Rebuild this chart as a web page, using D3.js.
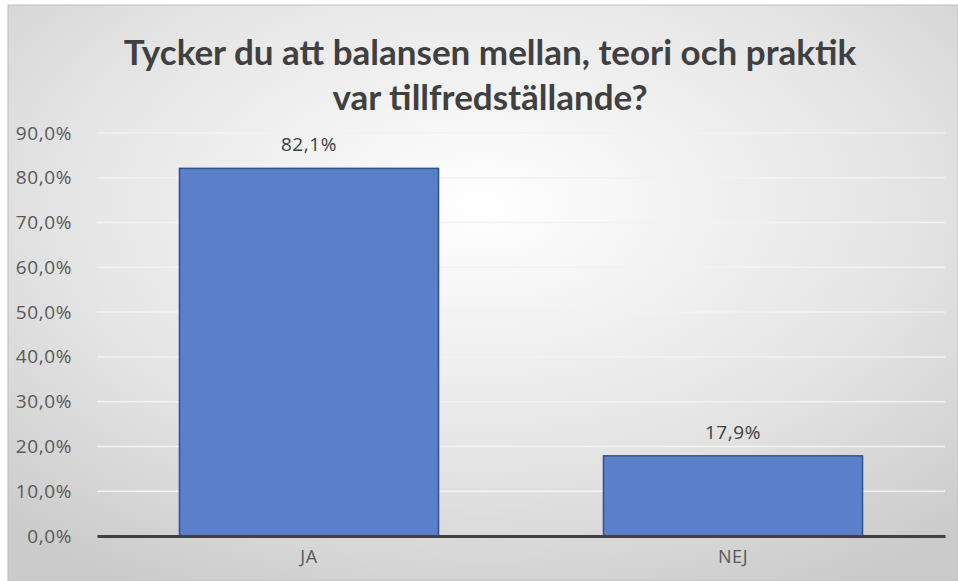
<!DOCTYPE html>
<html><head><meta charset="utf-8">
<script src="https://cdn.jsdelivr.net/npm/d3@7"></script>
<style>body{margin:0;background:#fff}svg{display:block}</style>
</head><body>
<svg id="c" width="958" height="581"></svg>
<script>
const categories = ["JA", "NEJ"];
const values = [0.821, 0.179];
const yTicks = [0, 0.1, 0.2, 0.3, 0.4, 0.5, 0.6, 0.7, 0.8, 0.9];
const titleLines = ["Tycker du att balansen mellan, teori och praktik", "var tillfredställande?"];

const svg = d3.select("#c");
const W = 958, H = 581;
const defs = svg.append("defs");
const rg = defs.append("radialGradient").attr("id","bg").attr("cx","50%").attr("cy","35%").attr("r","75%");
rg.append("stop").attr("offset","0%").attr("stop-color","#ffffff");
rg.append("stop").attr("offset","60%").attr("stop-color","#e4e4e4");
rg.append("stop").attr("offset","100%").attr("stop-color","#cbcbcb");
svg.append("rect").attr("x",0).attr("y",0).attr("width",W).attr("height",H).attr("fill","#fff");
svg.append("rect").attr("x",8).attr("y",5).attr("width",W-8).attr("height",H-5).attr("fill","url(#bg)")
  .attr("stroke","#bdbdbd").attr("stroke-width",1);

const m = {left:97, right:945, top:133, bottom:536};
const x = d3.scaleBand().domain(categories).range([m.left, m.right]).paddingInner(0.389).paddingOuter(0.1945);
const y = d3.scaleLinear().domain([0, 0.9]).range([m.bottom, m.top]);
const fmt = v => d3.format(".1f")(v*100).replace(".", ",") + "%";

// gridlines
svg.append("g").selectAll("line").data(yTicks.filter(d=>d>0)).join("line")
  .attr("x1", m.left).attr("x2", m.right)
  .attr("y1", d=>y(d)).attr("y2", d=>y(d))
  .attr("stroke","#f2f2f2").attr("stroke-width",1.5);

// y axis labels
const ya = svg.append("g").attr("transform",`translate(${m.left},0)`)
  .call(d3.axisLeft(y).tickValues(yTicks).tickFormat(fmt).tickSize(0).tickPadding(25));
ya.select(".domain").remove();
ya.selectAll("text").attr("font-family","'Open Sans', sans-serif").attr("font-size",19)
  .attr("letter-spacing","0.6px").attr("fill","#595959");

// bars
svg.append("g").selectAll("rect").data(values).join("rect")
  .attr("x",(d,i)=>x(categories[i])).attr("width",x.bandwidth())
  .attr("y",d=>y(d)).attr("height",d=>y(0)-y(d))
  .attr("fill","#5b7fc8").attr("stroke","#2f528f").attr("stroke-width",1.5);

// data labels
svg.append("g").selectAll("text").data(values).join("text")
  .attr("x",(d,i)=>x(categories[i])+x.bandwidth()/2).attr("y",d=>y(d)-17)
  .attr("text-anchor","middle").attr("font-family","'Open Sans', sans-serif").attr("font-size",19)
  .attr("letter-spacing","0.6px").attr("fill","#404040").text(fmt);

// x axis
const xa = svg.append("g").attr("transform",`translate(0,${m.bottom})`)
  .call(d3.axisBottom(x).tickSize(0).tickPadding(14));
xa.select(".domain").attr("stroke","#404040").attr("stroke-width",3);
xa.selectAll("text").attr("font-family","'Open Sans', sans-serif").attr("font-size",18)
  .attr("letter-spacing","0.6px").attr("fill","#595959");

// title
svg.append("g").selectAll("text").data(titleLines).join("text")
  .attr("x",490).attr("y",(d,i)=>65+i*45).attr("text-anchor","middle")
  .attr("font-family","Lato, sans-serif").attr("font-weight","bold").attr("font-size",35)
  .attr("fill","#404040").text(d=>d);
</script>
</body></html>
